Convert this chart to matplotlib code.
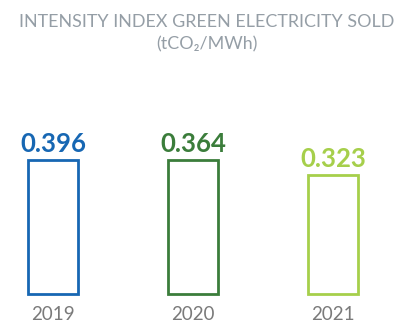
import matplotlib
matplotlib.use('Agg')
import matplotlib.pyplot as plt

years = ['2019', '2020', '2021']
values = [0.396, 0.364, 0.323]
# drawn heights of the outlined bars, relative to the tallest
bar_heights = [1.0, 1.0, 0.89]
colors = ['#1767b3', '#3b7d3b', '#a6cf4b']

plt.rcParams['font.family'] = ['Lato', 'DejaVu Sans']

fig = plt.figure(figsize=(4.05, 3.24), dpi=100)
ax = fig.add_axes([0, 0, 1, 1])
x = range(len(years))
ax.bar(x, bar_heights, width=0.357, facecolor='white', edgecolor=colors, linewidth=2.0)

for i, (v, h, c, yr) in enumerate(zip(values, bar_heights, colors, years)):
    ax.text(i, h + 0.12, f'{v:.3f}', ha='center', va='center', color=c,
            fontsize=18.5, fontweight='bold')
    ax.text(i, -0.15, yr, ha='center', va='center', color='#7a7a7a',
            fontsize=13.5)

ax.set_xlim(-53 / 140, (405 - 53) / 140)
ax.set_ylim(-30 / 134, (324 - 30) / 134)
ax.axis('off')

fig.text(0.51, 0.932, 'INTENSITY INDEX GREEN ELECTRICITY SOLD', ha='center', va='center',
         color='#959ea6', fontsize=12.9)
fig.text(0.51, 0.862, '(tCO\u2082/MWh)', ha='center', va='center',
         color='#959ea6', fontsize=12.9)

fig.savefig('out.png', dpi=100)
